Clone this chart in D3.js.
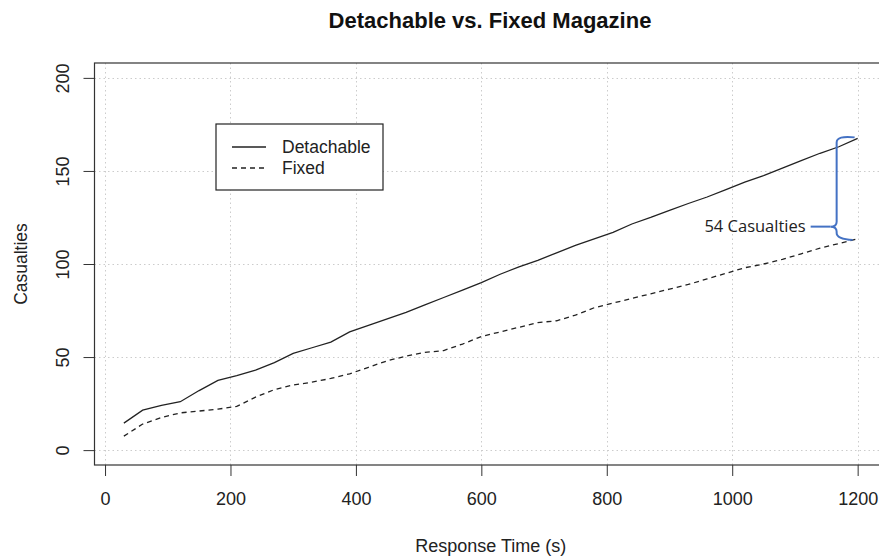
<!DOCTYPE html>
<html>
<head>
<meta charset="utf-8">
<script src="https://d3js.org/d3.v7.min.js"></script>
<style>
  body { margin: 0; background: #fff; }
  text { font-family: "Liberation Sans", Arial, sans-serif; }
</style>
</head>
<body>
<div id="chart"></div>
<script>
// response time (s), one reading every 30s
var responseTime = [30, 60, 90, 120, 150, 180, 210, 240, 270, 300,
  330, 360, 390, 420, 450, 480, 510, 540, 570, 600,
  630, 660, 690, 720, 750, 780, 810, 840, 870, 900,
  930, 960, 990, 1020, 1050, 1080, 1110, 1140, 1170, 1200];

var detachable = [14.5, 21.5, 24, 26, 32, 37.5, 40, 43, 47, 52,
  55, 58, 63.5, 67, 70.5, 74, 78, 82, 86, 90,
  94.5, 98.5, 102, 106, 110, 113.5, 117, 121.5, 125, 128.8,
  132.5, 136, 140, 144, 147.5, 151.5, 155.5, 159.5, 163, 167.5];

var fixed = [7.5, 14, 17.5, 20, 21, 22, 23.5, 28.5, 32.5, 35,
  36.5, 38.5, 41, 44.5, 48, 50.5, 52.5, 53.5, 57, 61,
  63.5, 66, 68.5, 69.5, 72.5, 76.5, 79, 81.5, 84, 86.5,
  89, 92, 95, 98, 100, 102.5, 105.5, 108.5, 111, 113.5];

var xTicks = [0, 200, 400, 600, 800, 1000, 1200];
var yTicks = [0, 50, 100, 150, 200];

var seriesNames = ["Detachable", "Fixed"];
var annotationText = "54 Casualties";

var svgWidth = 879, svgHeight = 557;

var svg = d3.select("#chart")
  .append("svg")
  .attr("width", svgWidth)
  .attr("height", svgHeight);

// plot region (R style: 4% padding round the data range)
var plot = { left: 94.5, right: 887, top: 63, bottom: 465 };

var xPad = (d3.max(responseTime) - d3.min(responseTime)) * 0.04;
var x = d3.scaleLinear()
  .domain([d3.min(responseTime) - xPad, d3.max(responseTime) + xPad])
  .range([plot.left, plot.right]);

var y = d3.scaleLinear()
  .domain([-8, 208])
  .range([plot.bottom, plot.top]);

// grid
var grid = svg.append("g")
  .attr("stroke", "#cccccc")
  .attr("stroke-width", 1)
  .attr("stroke-dasharray", "1.5,3");

grid.selectAll(".vgrid")
  .data(xTicks)
  .enter()
  .append("line")
  .attr("x1", d => Math.round(x(d)) + 0.5)
  .attr("x2", d => Math.round(x(d)) + 0.5)
  .attr("y1", plot.top)
  .attr("y2", plot.bottom);

grid.selectAll(".hgrid")
  .data(yTicks)
  .enter()
  .append("line")
  .attr("y1", d => Math.round(y(d)) + 0.5)
  .attr("y2", d => Math.round(y(d)) + 0.5)
  .attr("x1", plot.left)
  .attr("x2", plot.right);

// axes
var xAxis = d3.axisBottom(x)
  .tickValues(xTicks)
  .tickFormat(d3.format("d"))
  .tickSize(11)
  .tickPadding(16);
var yAxis = d3.axisLeft(y)
  .tickValues(yTicks)
  .tickFormat(d3.format("d"))
  .tickSize(11);

var xg = svg.append("g")
  .attr("transform", `translate(0, ${plot.bottom})`)
  .call(xAxis);
xg.select(".domain").remove();
xg.selectAll("line").attr("stroke", "#333");
xg.selectAll("text")
  .attr("font-size", "18px")
  .attr("fill", "#222")
  .attr("font-family", null);

var yg = svg.append("g")
  .attr("transform", `translate(${plot.left}, 0)`)
  .call(yAxis);
yg.select(".domain").remove();
yg.selectAll("line").attr("stroke", "#333");
// R style: y tick labels run parallel to the axis
yg.selectAll("text")
  .attr("font-size", "18px")
  .attr("fill", "#222")
  .attr("font-family", null)
  .attr("text-anchor", "middle")
  .attr("x", 0)
  .attr("y", 0)
  .attr("dy", "0.35em")
  .attr("transform", "translate(-32, 0) rotate(-90)");

// box
svg.append("rect")
  .attr("x", plot.left)
  .attr("y", plot.top)
  .attr("width", plot.right - plot.left)
  .attr("height", plot.bottom - plot.top)
  .attr("fill", "none")
  .attr("stroke", "#333")
  .attr("stroke-width", 1.2);

// lines
var line = d3.line()
  .x((d, i) => x(responseTime[i]))
  .y(d => y(d));

svg.append("path")
  .datum(detachable)
  .attr("d", line)
  .attr("fill", "none")
  .attr("stroke", "#222")
  .attr("stroke-width", 1.3);

svg.append("path")
  .datum(fixed)
  .attr("d", line)
  .attr("fill", "none")
  .attr("stroke", "#222")
  .attr("stroke-width", 1.3)
  .attr("stroke-dasharray", "5,4");

// titles
svg.append("text")
  .attr("x", 490)
  .attr("y", 28)
  .attr("text-anchor", "middle")
  .attr("font-size", "22px")
  .attr("font-weight", "bold")
  .attr("fill", "#111")
  .text("Detachable vs. Fixed Magazine");

svg.append("text")
  .attr("x", (plot.left + plot.right) / 2)
  .attr("y", 552)
  .attr("text-anchor", "middle")
  .attr("font-size", "18px")
  .attr("fill", "#222")
  .text("Response Time (s)");

svg.append("text")
  .attr("transform", `translate(27, ${(plot.top + plot.bottom) / 2}) rotate(-90)`)
  .attr("text-anchor", "middle")
  .attr("font-size", "17.5px")
  .attr("fill", "#222")
  .text("Casualties");

// legend
var legend = svg.append("g").attr("transform", "translate(216, 124)");
legend.append("rect")
  .attr("width", 167)
  .attr("height", 66)
  .attr("fill", "#fff")
  .attr("stroke", "#222")
  .attr("stroke-width", 1.2);

var legendRows = legend.selectAll(".row")
  .data(seriesNames)
  .enter()
  .append("g")
  .attr("transform", (d, i) => `translate(0, ${23 + i * 21})`);

legendRows.append("line")
  .attr("x1", 16)
  .attr("x2", 50)
  .attr("stroke", "#222")
  .attr("stroke-width", 1.3)
  .attr("stroke-dasharray", (d, i) => i === 1 ? "5,4" : null);

legendRows.append("text")
  .attr("x", 66)
  .attr("dy", "0.35em")
  .attr("font-size", "17.5px")
  .attr("fill", "#222")
  .text(d => d);

// brace annotation between the two series at 1200s
var lastX = responseTime[responseTime.length - 1];
var topY = y(detachable[detachable.length - 1]);
var botY = y(fixed[fixed.length - 1]);
var bx = x(lastX) - 21;
var midY = (topY + botY) / 2 + 38;
var endX = x(lastX) - 3;

var brace = d3.path();
brace.moveTo(endX, topY - 1);
brace.quadraticCurveTo(bx, topY - 3, bx, topY + 4);
brace.lineTo(bx, midY - 5);
brace.quadraticCurveTo(bx, midY, bx - 6, midY);
brace.quadraticCurveTo(bx, midY, bx, midY + 5);
brace.lineTo(bx, botY - 6);
brace.quadraticCurveTo(bx, botY, endX - 2, botY + 1);

svg.append("path")
  .attr("d", brace.toString())
  .attr("fill", "none")
  .attr("stroke", "#4472c4")
  .attr("stroke-width", 2);

svg.append("line")
  .attr("x1", bx - 26)
  .attr("x2", bx - 6)
  .attr("y1", midY)
  .attr("y2", midY)
  .attr("stroke", "#4472c4")
  .attr("stroke-width", 2);

svg.append("text")
  .attr("x", bx - 31)
  .attr("y", midY)
  .attr("dy", "0.35em")
  .attr("text-anchor", "end")
  .style("font-family", "'Open Sans', 'Noto Sans', sans-serif")
  .attr("font-size", "16.5px")
  .attr("fill", "#222")
  .text(annotationText);
</script>
</body>
</html>
